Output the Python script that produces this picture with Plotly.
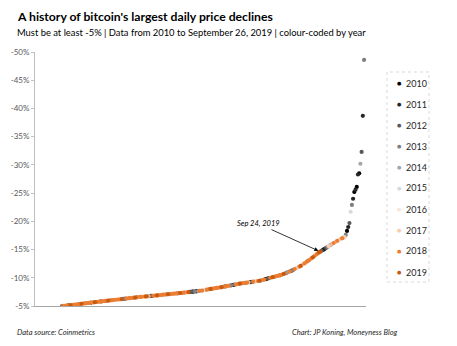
import plotly.graph_objects as go

# Daily price declines (%) sorted from smallest to largest magnitude
declines = [
    -5.00, -5.02, -5.03, -5.05, -5.08, -5.10, -5.12, -5.15, -5.17, -5.20,
    -5.23, -5.25, -5.28, -5.31, -5.34, -5.37, -5.40, -5.42, -5.45, -5.47,
    -5.50, -5.52, -5.55, -5.58, -5.60, -5.63, -5.65, -5.68, -5.70, -5.73,
    -5.76, -5.79, -5.81, -5.83, -5.86, -5.88, -5.91, -5.93, -5.96, -5.98,
    -6.01, -6.03, -6.06, -6.08, -6.11, -6.13, -6.15, -6.18, -6.20, -6.23,
    -6.25, -6.28, -6.30, -6.33, -6.35, -6.38, -6.40, -6.42, -6.45, -6.47,
    -6.50, -6.52, -6.55, -6.57, -6.60, -6.62, -6.64, -6.66, -6.68, -6.70,
    -6.72, -6.74, -6.76, -6.78, -6.80, -6.82, -6.84, -6.86, -6.88, -6.90,
    -6.92, -6.95, -6.97, -7.00, -7.02, -7.04, -7.06, -7.08, -7.10, -7.12,
    -7.14, -7.16, -7.18, -7.20, -7.22, -7.25, -7.27, -7.30, -7.32, -7.34,
    -7.37, -7.39, -7.42, -7.44, -7.46, -7.49, -7.51, -7.53, -7.56, -7.58,
    -7.60, -7.63, -7.65, -7.68, -7.70, -7.74, -7.78, -7.82, -7.86, -7.90,
    -7.94, -7.98, -8.02, -8.06, -8.10, -8.13, -8.16, -8.20, -8.23, -8.27,
    -8.30, -8.34, -8.38, -8.42, -8.46, -8.51, -8.55, -8.59, -8.63, -8.67,
    -8.72, -8.76, -8.80, -8.84, -8.88, -8.92, -8.96, -9.00, -9.03, -9.06,
    -9.09, -9.12, -9.15, -9.18, -9.21, -9.24, -9.27, -9.31, -9.34, -9.37,
    -9.40, -9.43, -9.47, -9.50, -9.56, -9.62, -9.68, -9.75, -9.81, -9.87,
    -9.94, -10.00, -10.06, -10.11, -10.17, -10.22, -10.28, -10.33, -10.39, -10.44,
    -10.50, -10.59, -10.68, -10.76, -10.85, -10.94, -11.03, -11.11, -11.20, -11.31,
    -11.42, -11.54, -11.65, -11.76, -11.88, -11.99, -12.10, -12.25, -12.40, -12.55,
    -12.70, -12.85, -13.00, -13.15, -13.30, -13.47, -13.64, -13.81, -13.99, -14.16,
    -14.33, -14.50, -14.63, -14.77, -14.90, -15.03, -15.17, -15.30, -15.45, -15.60,
    -15.75, -15.90, -16.03, -16.16, -16.29, -16.41, -16.54, -16.67, -16.80, -16.90,
    -17.00, -17.10, -17.20, -17.60, -18.30, -19.00, -19.70, -21.70, -22.90, -24.00,
    -25.20, -25.60, -26.10, -28.30, -28.50, -30.20, -32.30, -38.70, -48.60,
]

# Year of each decline (same order)
decline_years = [
    2012, 2018, 2018, 2017, 2018, 2011, 2018, 2019, 2017, 2018,
    2016, 2018, 2017, 2018, 2013, 2018, 2019, 2017, 2018, 2014,
    2018, 2017, 2018, 2018, 2010, 2017, 2018, 2019, 2015, 2018,
    2017, 2018, 2011, 2018, 2017, 2018, 2012, 2018, 2019, 2017,
    2018, 2013, 2018, 2017, 2018, 2016, 2018, 2017, 2018, 2019,
    2012, 2013, 2012, 2018, 2017, 2018, 2014, 2018, 2017, 2018,
    2019, 2018, 2011, 2017, 2018, 2018, 2015, 2017, 2018, 2019,
    2018, 2017, 2010, 2012, 2011, 2018, 2017, 2018, 2019, 2018,
    2017, 2018, 2014, 2018, 2017, 2018, 2013, 2019, 2018, 2017,
    2018, 2016, 2018, 2017, 2018, 2012, 2018, 2019, 2017, 2018,
    2018, 2013, 2017, 2018, 2019, 2011, 2012, 2010, 2011, 2013,
    2010, 2011, 2014, 2018, 2017, 2018, 2015, 2015, 2014, 2018,
    2017, 2018, 2019, 2012, 2018, 2017, 2018, 2013, 2018, 2017,
    2018, 2019, 2017, 2018, 2011, 2018, 2017, 2018, 2012, 2013,
    2011, 2010, 2013, 2018, 2017, 2018, 2019, 2014, 2018, 2017,
    2018, 2012, 2018, 2017, 2011, 2010, 2012, 2018, 2015, 2015,
    2017, 2018, 2019, 2013, 2018, 2017, 2018, 2011, 2010, 2012,
    2011, 2018, 2017, 2019, 2018, 2014, 2018, 2017, 2018, 2012,
    2018, 2017, 2019, 2018, 2013, 2012, 2014, 2018, 2011, 2013,
    2012, 2018, 2017, 2015, 2015, 2018, 2019, 2017, 2016, 2018,
    2017, 2018, 2013, 2018, 2017, 2018, 2019, 2018, 2017, 2018,
    2018, 2019, 2019, 2012, 2011, 2010, 2011, 2012, 2013, 2017,
    2014, 2013, 2017, 2018, 2015, 2017, 2018, 2016, 2015, 2017,
    2018, 2014, 2017, 2013, 2010, 2011, 2012, 2015, 2013, 2011,
    2010, 2011, 2010, 2011, 2010, 2014, 2012, 2011, 2013,
]

legend_years = [2010, 2011, 2012, 2013, 2014, 2015, 2016, 2017, 2018, 2019]
year_colors = ["#000000", "#262626", "#595959", "#7f7f7f", "#a6a6a6",
               "#d9d9d9", "#fbe5d6", "#f8cbad", "#ed7d31", "#c55a11"]

tick_values = [-5, -10, -15, -20, -25, -30, -35, -40, -45, -50]
tick_labels = ["-5%", "-10%", "-15%", "-20%", "-25%", "-30%", "-35%", "-40%", "-45%", "-50%"]

annot_label = "Sep 24, 2019"
annot_year = 2019
annot_value = -14.63

assert len(declines) == len(decline_years)
ranks = list(range(len(declines)))

fig = go.Figure()
for yr, col in zip(legend_years, year_colors):
    xs = [r for r in ranks if decline_years[r] == yr]
    ys = [declines[r] for r in xs]
    fig.add_trace(go.Scatter(
        x=xs, y=ys, mode="markers", name=str(yr), showlegend=False,
        marker=dict(color=col, size=4.2, line=dict(width=0)),
    ))

annot_rank = [r for r in ranks if decline_years[r] == annot_year and declines[r] == annot_value][0]

W, H = 457, 346
L, R, T, B = 35, 91, 52, 40
pw = W - L - R
ph = H - T - B

def px(xp):
    return (xp - L) / pw

def py(yp):
    return (H - B - yp) / ph

font_family = "Lato, 'Liberation Sans', sans-serif"

annotations = [
    dict(text="<b>A history of bitcoin's largest daily price declines</b>", x=px(15), y=py(16),
         xref="paper", yref="paper", xanchor="left", yanchor="middle", showarrow=False,
         font=dict(size=12.2, color="#000000", family=font_family)),
    dict(text="Must be at least -5% | Data from 2010 to September 26, 2019 | colour-coded by year",
         x=px(15), y=py(33), xref="paper", yref="paper", xanchor="left", yanchor="middle",
         showarrow=False, font=dict(size=9.4, color="#000000", family=font_family)),
    dict(text="<i>Data source: Coinmetrics</i>", x=px(15), y=py(332), xref="paper", yref="paper",
         xanchor="left", yanchor="middle", showarrow=False,
         font=dict(size=7.5, color="#262626", family=font_family)),
    dict(text="<i>Chart: JP Koning, Moneyness Blog</i>", x=px(290), y=py(332), xref="paper", yref="paper",
         xanchor="left", yanchor="middle", showarrow=False,
         font=dict(size=7.5, color="#262626", family=font_family)),
    dict(text="<i>" + annot_label + "</i>", x=annot_rank, y=annot_value, xref="x", yref="y",
         showarrow=True, ax=-62, ay=-28, axref="pixel", ayref="pixel",
         arrowhead=2, arrowsize=1, arrowwidth=0.8, arrowcolor="#000000", standoff=2,
         font=dict(size=7.5, color="#000000", family=font_family)),
]

# Legend drawn as text entries inside a dotted box
for i, (yr, col) in enumerate(zip(legend_years, year_colors)):
    yc = py(83 + 21 * i)
    annotations.append(dict(text="●", x=px(399), y=yc, xref="paper", yref="paper",
                            xanchor="center", yanchor="middle", showarrow=False,
                            font=dict(size=5, color=col, family="DejaVu Sans")))
    annotations.append(dict(text=str(yr), x=px(404), y=yc, xref="paper", yref="paper",
                            xanchor="left", yanchor="middle", showarrow=False,
                            font=dict(size=9, color="#262626", family=font_family)))

fig.update_layout(
    width=W, height=H,
    margin=dict(l=L, r=R, t=T, b=B, pad=0),
    paper_bgcolor="#ffffff", plot_bgcolor="#ffffff",
    showlegend=False,
    annotations=annotations,
    shapes=[dict(type="rect", xref="paper", yref="paper",
                 x0=px(387), x1=px(429), y0=py(282), y1=py(72),
                 line=dict(color="#d9d9d9", width=1, dash="dot"))],
    xaxis=dict(range=[-22.2, 249.6], showgrid=False, zeroline=False, showticklabels=False,
               ticks="", showline=True, linecolor="#a6a6a6", linewidth=1),
    yaxis=dict(range=[-5, -50], tickvals=tick_values, ticktext=tick_labels, showgrid=False,
               zeroline=False, showline=True, linecolor="#bfbfbf", linewidth=1,
               ticks="outside", ticklen=3, tickcolor="#bfbfbf",
               tickfont=dict(size=8, color="#595959", family=font_family)),
    font=dict(family=font_family),
)

fig.write_html("out.html")
